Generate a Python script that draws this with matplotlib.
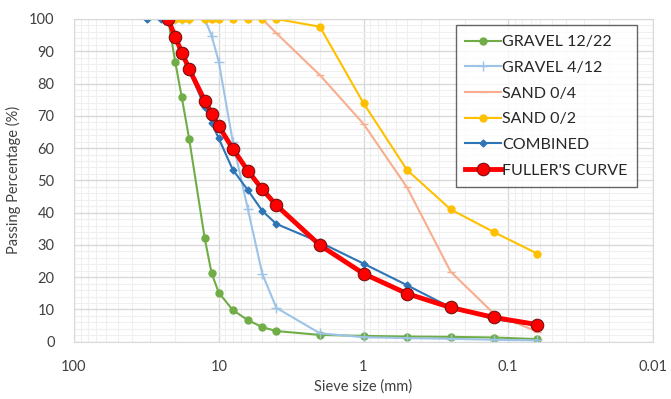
import matplotlib
matplotlib.use("Agg")
import matplotlib.pyplot as plt
from matplotlib.ticker import FixedLocator, NullFormatter, MultipleLocator

plt.rcParams['font.family'] = ['Lato', 'DejaVu Sans']

# sieve sizes (mm)
sieves = [22.4, 20, 18, 16, 12.5, 11.2, 10, 8, 6.3, 5, 4, 2, 1, 0.5, 0.25, 0.125, 0.063]
sieves_combined = [31.5, 25] + sieves

# passing percentages
gravel_12_22 = [100, 86.8, 75.7, 62.8, 32.0, 21.2, 15.2, 9.8, 6.7, 4.5, 3.3, 2.1, 1.8, 1.6, 1.5, 1.3, 0.8]
gravel_4_12 = [100, 100, 100, 100, 100, 94.8, 86.8, 62, 41.2, 21.0, 10.5, 2.6, 1.4, 1.1, 0.9, 0.6, 0.4]
sand_0_4 = [100, 100, 100, 100, 100, 100, 100, 100, 100, 100, 95.6, 82.6, 67.5, 47.8, 21.7, 8.6, 3.1]
sand_0_2 = [100, 100, 100, 100, 100, 100, 100, 100, 100, 100, 100, 97.6, 73.9, 53.2, 41.0, 33.9, 27.3]
combined = [100, 100, 99.5, 94.2, 89.4, 84.0, 72.8, 67.8, 63.0, 53.3, 47.0, 40.5, 36.5, 30.8, 24.2, 17.5, 10.6, 7.0, 5.0]
fuller = [100, 94.5, 89.6, 84.5, 74.7, 70.7, 66.8, 59.8, 53.0, 47.2, 42.3, 29.9, 21.1, 14.9, 10.6, 7.5, 5.3]

fig = plt.figure(figsize=(6.71, 3.99), dpi=100)
ax = fig.add_axes([74 / 671, 1 - 341.7 / 399, (653 - 74) / 671, (341.7 - 19) / 399])

ax.plot(sieves, gravel_12_22, color='#70AD47', lw=1.5, marker='o', ms=5, label='GRAVEL 12/22')
ax.plot(sieves, gravel_4_12, color='#9DC3E6', lw=1.5, marker='+', ms=7, mew=1, label='GRAVEL 4/12')
ax.plot(sieves, sand_0_4, color='#F8AD8E', lw=1.5, marker='_', ms=6, mew=1, label='SAND 0/4')
ax.plot(sieves, sand_0_2, color='#FFC000', lw=1.5, marker='o', ms=5, label='SAND 0/2')
ax.plot(sieves_combined, combined, color='#2E75B6', lw=1.5, marker='D', ms=3.5, label='COMBINED')
ax.plot(sieves, fuller, color='#FF0000', lw=3.5, marker='o', ms=9, mec='#7A1010', mew=0.8,
        label="FULLER'S CURVE")

ax.set_xscale('log')
ax.set_xlim(100, 0.01)
ax.set_ylim(0, 100)

ax.xaxis.set_major_locator(FixedLocator([100, 10, 1, 0.1, 0.01]))
ax.set_xticklabels(['100', '10', '1', '0.1', '0.01'])
minor = [m * 10.0 ** e for e in range(-2, 2) for m in range(2, 10)]
ax.xaxis.set_minor_locator(FixedLocator(minor))
ax.xaxis.set_minor_formatter(NullFormatter())
ax.yaxis.set_major_locator(MultipleLocator(10))
ax.yaxis.set_minor_locator(MultipleLocator(2))

ax.grid(which='major', color='#D9D9D9', lw=1.0)
ax.grid(which='minor', color='#EFEFEF', lw=0.8)
ax.set_axisbelow(True)

ax.tick_params(which='both', length=0, labelsize=10.5, labelcolor='#404040')
ax.tick_params(axis='x', pad=13)
ax.tick_params(axis='y', pad=14)
for s in ax.spines.values():
    s.set_color('#D9D9D9')

ax.set_xlabel('Sieve size (mm)', fontsize=10.5, color='#404040', labelpad=4)
ax.set_ylabel('Passing Percentage (%)', fontsize=10.5, color='#404040', labelpad=6)

leg = ax.legend(loc='upper right', bbox_to_anchor=(0.978, 0.99), fontsize=11.5, frameon=True,
                fancybox=False, edgecolor='#404040', handlelength=2.2, handletextpad=0.1,
                labelspacing=0.72, borderpad=0.6, borderaxespad=0.2)
leg.get_frame().set_linewidth(1.0)
for t in leg.get_texts():
    t.set_color('#262626')

fig.savefig('out.png', dpi=100)
